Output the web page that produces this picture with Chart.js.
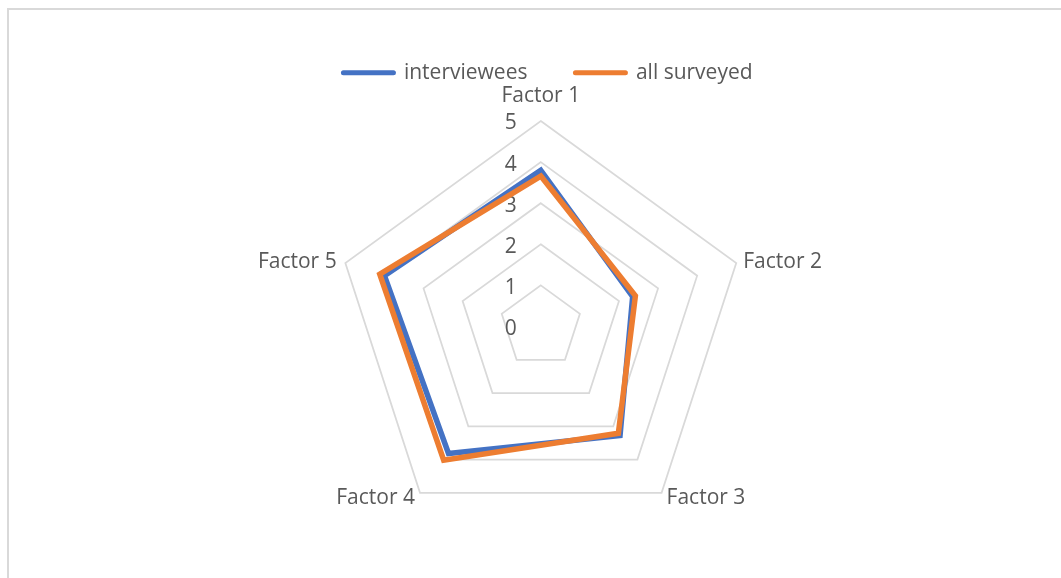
<!DOCTYPE html>
<html><head><meta charset="utf-8">
<script src="https://cdn.jsdelivr.net/npm/chart.js@4"></script>
<style>
html,body{margin:0;padding:0;background:#fff;overflow:hidden;width:1061px;height:578px;}
#frame{position:absolute;left:7px;top:8px;width:1200px;height:700px;border-left:2px solid #d9d9d9;border-top:2px solid #d9d9d9;}
#c{position:absolute;left:0;top:0;}
</style></head><body>
<div id="frame"></div>
<canvas id="c" width="1061" height="578"></canvas>
<script>
// ---- data ----
const categories = ['Factor 1', 'Factor 2', 'Factor 3', 'Factor 4', 'Factor 5'];
const interviewees = [3.8, 2.35, 3.28, 3.82, 4.0];
const allSurveyed = [3.66, 2.42, 3.21, 4.02, 4.12];
const tickMin = 0, tickMax = 5, tickStep = 1;
const seriesNames = ['interviewees', 'all surveyed'];
const seriesColors = ['#4472C4', '#ED7D31'];

// ---- layout / style ----
const FONT = { family: "'Open Sans', sans-serif", size: 21 };
const TEXT = '#595959';
const CX = 540.8, CY = 326.5, R = 205.5;
const labelPlacement = [
  { align: 'center', dx: 0, dy: -24.5 },
  { align: 'left', dx: 7, dy: -1.2 },
  { align: 'left', dx: 5, dy: 5.6 },
  { align: 'right', dx: -5, dy: 5.6 },
  { align: 'right', dx: -8.7, dy: -1.2 }
];

function placeScale(scale) {
  scale.xCenter = CX; scale.yCenter = CY; scale.drawingArea = R;
  const ctx = scale.ctx;
  ctx.save();
  ctx.font = FONT.size + 'px ' + FONT.family;
  const lh = FONT.size * 1.2;
  scale._pointLabelItems = categories.map((c, i) => {
    const p = scale.getPointPosition(i, scale.getDistanceFromCenterForValue(tickMax));
    const pl = labelPlacement[i];
    const w = ctx.measureText(c).width;
    const x = p.x + pl.dx;
    const top = p.y + pl.dy - lh / 2;
    const left = pl.align === 'center' ? x - w / 2 : (pl.align === 'left' ? x : x - w);
    return { visible: true, x: x, y: top, textAlign: pl.align, left: left, top: top, right: left + w, bottom: top + lh };
  });
  ctx.restore();
}

const tickLabelPlugin = {
  id: 'tickLabels',
  beforeDatasetsDraw(chart) {
    const s = chart.scales.r;
    const ctx = chart.ctx;
    ctx.save();
    ctx.font = FONT.size + 'px ' + FONT.family;
    ctx.fillStyle = TEXT;
    ctx.textAlign = 'center';
    ctx.textBaseline = 'middle';
    s.ticks.forEach(t => {
      const d = s.getDistanceFromCenterForValue(t.value);
      ctx.fillText(t.label, s.xCenter - 30, s.yCenter - d + 2.5);
    });
    ctx.restore();
  }
};

const seriesData = [interviewees, allSurveyed];
new Chart(document.getElementById('c'), {
  type: 'radar',
  data: {
    labels: categories,
    datasets: seriesData.map((d, i) => ({
      label: seriesNames[i],
      data: d,
      borderColor: seriesColors[i],
      backgroundColor: seriesColors[i],
      borderWidth: 5.5,
      pointRadius: 0,
      pointHoverRadius: 0,
      fill: false,
      tension: 0,
      clip: false,
      borderJoinStyle: 'miter',
      order: i === 0 ? 1 : 0
    }))
  },
  options: {
    responsive: false,
    animation: false,
    devicePixelRatio: 1,
    layout: { padding: { top: 14.2, left: 35, right: 0, bottom: 0 } },
    plugins: {
      tooltip: { enabled: false },
      legend: {
        position: 'top',
        labels: {
          font: FONT,
          color: TEXT,
          usePointStyle: true,
          pointStyle: 'line',
          pointStyleWidth: 50,
          padding: 48,
          generateLabels(chart) {
            const items = Chart.defaults.plugins.legend.labels.generateLabels(chart);
            items.forEach(it => {
              it.lineCap = 'round';
              it.lineWidth = 5;
              it.pointStyle = 'line';
              it.strokeStyle = seriesColors[it.datasetIndex];
              it.fillStyle = seriesColors[it.datasetIndex];
            });
            items.sort((a, b) => a.datasetIndex - b.datasetIndex);
            return items;
          }
        }
      }
    },
    scales: {
      r: {
        min: tickMin,
        max: tickMax,
        ticks: { stepSize: tickStep, display: false },
        grid: { color: '#d9d9d9', lineWidth: 1.75 },
        angleLines: { display: false },
        pointLabels: { font: FONT, color: TEXT },
        afterFit: placeScale
      }
    }
  },
  plugins: [tickLabelPlugin]
});
</script>
</body></html>
